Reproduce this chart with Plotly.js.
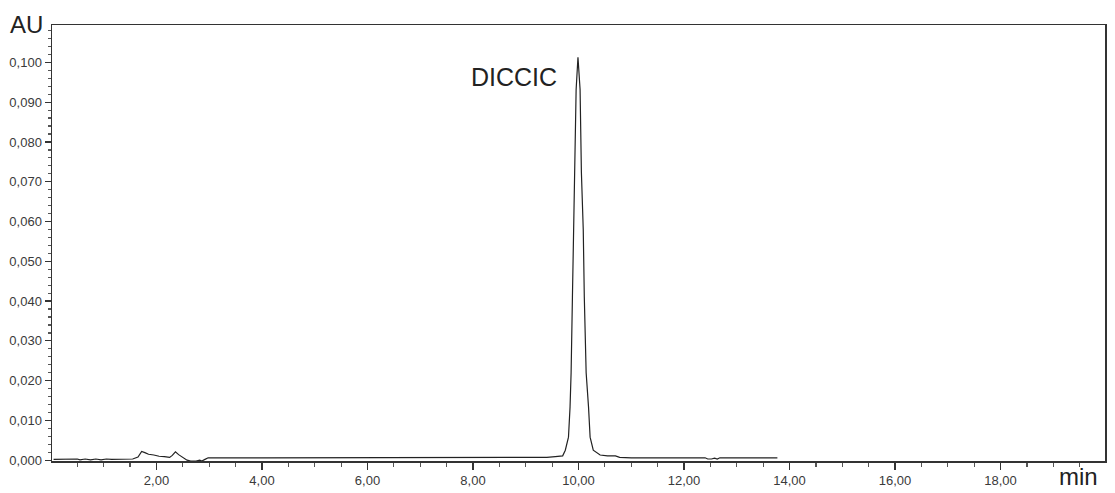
<!DOCTYPE html>
<html>
<head>
<meta charset="utf-8">
<script src="https://cdn.plot.ly/plotly-3.0.1.min.js"></script>
<style>html,body{margin:0;padding:0;background:#fff;}#chart{width:1115px;height:493px;}</style>
</head>
<body>
<div id="chart"></div>
<script>
// Retention time (min) and absorbance (AU)
const timeMin = [
  0.05, 0.30, 0.50, 0.55, 0.65, 0.75, 0.85, 0.95, 1.05, 1.15, 1.25, 1.35, 1.45, 1.55,
  1.65, 1.72, 1.78, 1.85, 1.95, 2.05, 2.15, 2.25, 2.30, 2.36, 2.42, 2.50, 2.58, 2.65,
  2.75, 2.82, 2.86, 2.92, 2.98, 4.00, 5.00, 6.00, 7.00, 8.00, 9.00, 9.40, 9.56, 9.70,
  9.75, 9.81, 9.84, 9.86, 9.885, 9.91, 9.93, 9.955, 9.99, 10.03, 10.055, 10.09,
  10.11, 10.145, 10.19, 10.22, 10.28, 10.41, 10.55, 10.70, 10.78,
  11.00, 12.00, 12.40, 12.45, 12.52, 12.58, 12.63, 12.68, 12.75, 13.00, 13.77
];
const absorbanceAU = [
  0.0002, 0.0002, 0.0003, 0.0001, 0.0003, 0.0001, 0.0003, 0.0001, 0.0003, 0.0002, 0.0002, 0.0003, 0.0002, 0.0003,
  0.0008, 0.0022, 0.0019, 0.0015, 0.0013, 0.0010, 0.0009, 0.0007, 0.0012, 0.0021, 0.0014, 0.0008, 0.0000, -0.0002,
  -0.0002, 0.0000, -0.0002, 0.0002, 0.0006, 0.0006, 0.0006, 0.0006, 0.0006, 0.0006, 0.0006, 0.0007, 0.0009, 0.0011,
  0.0025, 0.0058, 0.0134, 0.0220, 0.0410, 0.0580, 0.0723, 0.0932, 0.1013, 0.0932, 0.0723, 0.0580,
  0.0410, 0.0220, 0.0134, 0.0058, 0.0025, 0.0013, 0.0011, 0.0011, 0.0007,
  0.0006, 0.0006, 0.0006, 0.0003, 0.0003, 0.0005, 0.0003, 0.0006, 0.0006, 0.0006, 0.0006
];
const xTickVals = [2, 4, 6, 8, 10, 12, 14, 16, 18];
const yTickVals = [0, 0.01, 0.02, 0.03, 0.04, 0.05, 0.06, 0.07, 0.08, 0.09, 0.10];
const peakName = "DICCIC";
const peakLabelPos = {t: 8.78, au: 0.0963};

const tickFont = {family: 'Liberation Sans, Arial, sans-serif', size: 13, color: '#3a3a3a'};
const bigFont = {family: 'Liberation Sans, Arial, sans-serif', size: 24, color: '#222'};

Plotly.newPlot('chart', [{
  x: timeMin, y: absorbanceAU, type: 'scatter', mode: 'lines',
  line: {color: '#222', width: 1.2}, hoverinfo: 'skip'
}], {
  width: 1115, height: 493,
  margin: {l: 52, r: 10, t: 25, b: 32},
  paper_bgcolor: '#fff', plot_bgcolor: '#fff',
  separators: ',.',
  showlegend: false,
  xaxis: {
    range: [0.02, 19.98], tickvals: xTickVals, tickformat: '.2f',
    ticks: 'outside', ticklen: 7, tickwidth: 1.2, tickcolor: '#333',
    minor: {dtick: 0.5, tick0: 0, ticks: 'outside', ticklen: 4, tickcolor: '#555'},
    showgrid: false, zeroline: false, showline: true, mirror: true,
    linecolor: '#333', linewidth: 1.5, tickfont: tickFont
  },
  yaxis: {
    range: [-0.0002, 0.1094], tickvals: yTickVals, tickformat: '.3f',
    ticks: 'outside', ticklen: 6, tickwidth: 1.2, tickcolor: '#333',
    minor: {dtick: 0.002, tick0: 0, ticks: 'outside', ticklen: 3, tickcolor: '#555'},
    showgrid: false, zeroline: false, showline: true, mirror: true,
    linecolor: '#333', linewidth: 1.5, tickfont: tickFont
  },
  annotations: [
    {text: 'AU', xref: 'paper', yref: 'paper', x: 0, y: 1, xanchor: 'right', yanchor: 'middle',
     xshift: -7, yshift: 1, showarrow: false, font: bigFont},
    {text: 'min', xref: 'paper', yref: 'paper', x: 1, y: 0, xanchor: 'right', yanchor: 'bottom',
     xshift: -5, yshift: -31, showarrow: false, font: bigFont},
    {text: peakName, xref: 'x', yref: 'y', x: peakLabelPos.t, y: peakLabelPos.au,
     xanchor: 'center', yanchor: 'middle', showarrow: false,
     font: {family: 'Liberation Sans, Arial, sans-serif', size: 25, color: '#222'}}
  ]
}, {displayModeBar: false, staticPlot: true});
</script>
</body>
</html>
